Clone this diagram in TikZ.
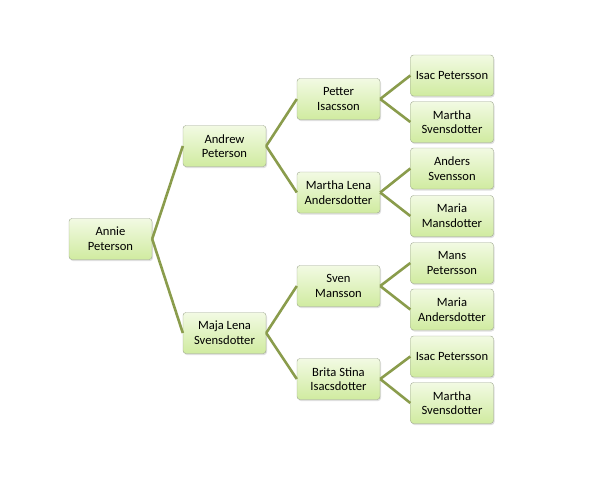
\documentclass[tikz,border=0pt]{standalone}
\usepackage{fontspec}
\setmainfont{Carlito}
\usepackage{xcolor}
\usepackage{tikz}
\usetikzlibrary{shadows}

\definecolor{boxtop}{HTML}{F2FAE3}
\definecolor{boxbot}{HTML}{D0EBA0}
\definecolor{boxline}{HTML}{9DA68E}
\definecolor{linkcol}{HTML}{8A9C4C}

\begin{document}
\begin{tikzpicture}[
  x=1pt, y=-1pt,
  person/.style={draw=boxline, rounded corners=3pt, minimum width=83pt, minimum height=41pt,
    inner sep=1pt, align=center, top color=boxtop, bottom color=boxbot,
    font=\fontsize{12.6}{14.6}\selectfont,
    drop shadow={shadow xshift=1pt, shadow yshift=-1.5pt, opacity=0.25}},
  link/.style={draw=linkcol, line width=2.6pt}
]
\useasboundingbox (0,0) rectangle (604,485);

\node[person] (annie) at (110.5,239) {Annie\\Peterson};

\node[person] (andrew) at (224.5,146) {Andrew\\Peterson};
\node[person] (maja) at (224.5,333) {Maja Lena\\Svensdotter};

\node[person] (petter) at (338.5,99) {Petter\\Isacsson};
\node[person] (marthalena) at (338.5,192.5) {Martha Lena\\Andersdotter};
\node[person] (sven) at (338.5,286) {Sven\\Mansson};
\node[person] (brita) at (338.5,379) {Brita Stina\\Isacsdotter};

\node[person] (isac) at (452,75.5) {Isac Petersson};
\node[person] (martha) at (452,122) {Martha\\Svensdotter};
\node[person] (anders) at (452,168.5) {Anders\\Svensson};
\node[person] (mariam) at (452,216) {Maria\\Mansdotter};
\node[person] (mans) at (452,263) {Mans\\Petersson};
\node[person] (mariaa) at (452,309.5) {Maria\\Andersdotter};
\node[person] (isacb) at (452,356.5) {Isac Petersson};
\node[person] (marthab) at (452,403) {Martha\\Svensdotter};

\draw[link] (annie.east) -- (andrew.west);
\draw[link] (annie.east) -- (maja.west);

\draw[link] (andrew.east) -- (petter.west);
\draw[link] (andrew.east) -- (marthalena.west);
\draw[link] (maja.east) -- (sven.west);
\draw[link] (maja.east) -- (brita.west);

\draw[link] (petter.east) -- (isac.west);
\draw[link] (petter.east) -- (martha.west);
\draw[link] (marthalena.east) -- (anders.west);
\draw[link] (marthalena.east) -- (mariam.west);
\draw[link] (sven.east) -- (mans.west);
\draw[link] (sven.east) -- (mariaa.west);
\draw[link] (brita.east) -- (isacb.west);
\draw[link] (brita.east) -- (marthab.west);
\end{tikzpicture}
\end{document}
